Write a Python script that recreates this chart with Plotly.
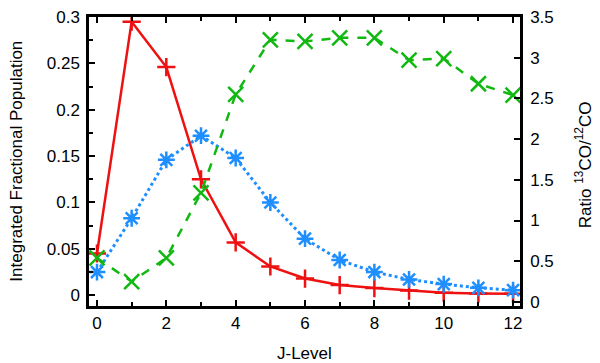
import plotly.graph_objects as go

# ----------------------------------------------------------
# Data
# ----------------------------------------------------------
j_level = list(range(13))
pop_12co = [0.045, 0.295, 0.246, 0.125, 0.057, 0.031, 0.018, 0.011, 0.0077,
            0.005, 0.0028, 0.002, 0.0015]
pop_13co = [0.025, 0.083, 0.146, 0.172, 0.148, 0.100, 0.061, 0.038, 0.025,
            0.017, 0.012, 0.008, 0.0055]
ratio = [0.54, 0.25, 0.54, 1.34, 2.55, 3.22, 3.20, 3.245, 3.245,
         2.97, 2.99, 2.68, 2.54]

FONT = "Liberation Sans, Arial, sans-serif"
FS = 17

fig = go.Figure()

fig.add_trace(go.Scatter(
    x=j_level, y=pop_12co, mode="lines+markers", name="12CO",
    line=dict(color="#ee1111", width=2.5),
    marker=dict(symbol="cross-thin-open", size=13,
                line=dict(color="#ee1111", width=2.5)),
))
fig.add_trace(go.Scatter(
    x=j_level, y=pop_13co, mode="lines+markers", name="13CO",
    line=dict(color="#1f8fff", width=3, dash="dot"),
    marker=dict(symbol="asterisk-open", size=14,
                line=dict(color="#1f8fff", width=2.5)),
))
fig.add_trace(go.Scatter(
    x=j_level, y=ratio, mode="lines+markers", name="ratio", yaxis="y2",
    line=dict(color="#11b811", width=2.5, dash="dash"),
    marker=dict(symbol="x-thin-open", size=15,
                line=dict(color="#11b811", width=2.5)),
))

axis_common = dict(
    showgrid=False, zeroline=False, showline=True, linecolor="black",
    linewidth=2.5, ticks="inside", ticklen=6, tickwidth=2, tickcolor="black",
    tickfont=dict(family=FONT, size=FS, color="black"), automargin=False,
    ticklabeloverflow="allow",
)

# the page body adds an 8px offset, so the figure is 8px smaller
fig.update_layout(
    width=592, height=355,
    margin=dict(l=81, r=80, t=9, b=57),
    plot_bgcolor="white", paper_bgcolor="white",
    showlegend=False,
    font=dict(family=FONT, size=FS, color="black"),
    xaxis=dict(
        **axis_common, range=[-0.23, 12.2], tickvals=list(range(0, 13, 2)),
        mirror="ticks",
        minor=dict(dtick=1, ticks="inside", ticklen=4, tickwidth=2,
                   tickcolor="black"),
    ),
    yaxis=dict(
        **axis_common, range=[-0.0116, 0.3], ticklabelstandoff=3,
        tickvals=[0, 0.05, 0.1, 0.15, 0.2, 0.25, 0.3],
        ticktext=["0", "0.05", "0.1", "0.15", "0.2", "0.25", "0.3"],
        minor=dict(dtick=0.025, ticks="inside", ticklen=4, tickwidth=2,
                   tickcolor="black"),
    ),
    yaxis2=dict(
        **axis_common, overlaying="y", side="right", ticklabelstandoff=4,
        range=[-0.05, 3.5], tickvals=[0, 0.5, 1, 1.5, 2, 2.5, 3, 3.5],
        ticktext=["0", "0.5", "1", "1.5", "2", "2.5", "3", "3.5"],
    ),
)

# axis titles
fig.add_annotation(text="J-Level", xref="paper", yref="paper",
                   x=0.5, y=-0.166, xanchor="center", yanchor="middle",
                   showarrow=False, font=dict(family=FONT, size=FS))
fig.add_annotation(text="Integrated Fractional Population", xref="paper",
                   yref="paper", x=-0.169, y=0.5, textangle=-90,
                   xanchor="center", yanchor="middle", showarrow=False,
                   font=dict(family=FONT, size=FS))
fig.add_annotation(text="Ratio <sup>13</sup>CO/<sup>12</sup>CO", xref="paper",
                   yref="paper", x=1.148, y=0.49, textangle=-90,
                   xanchor="center", yanchor="middle", showarrow=False,
                   font=dict(family=FONT, size=FS))

fig.write_html("out.html")
